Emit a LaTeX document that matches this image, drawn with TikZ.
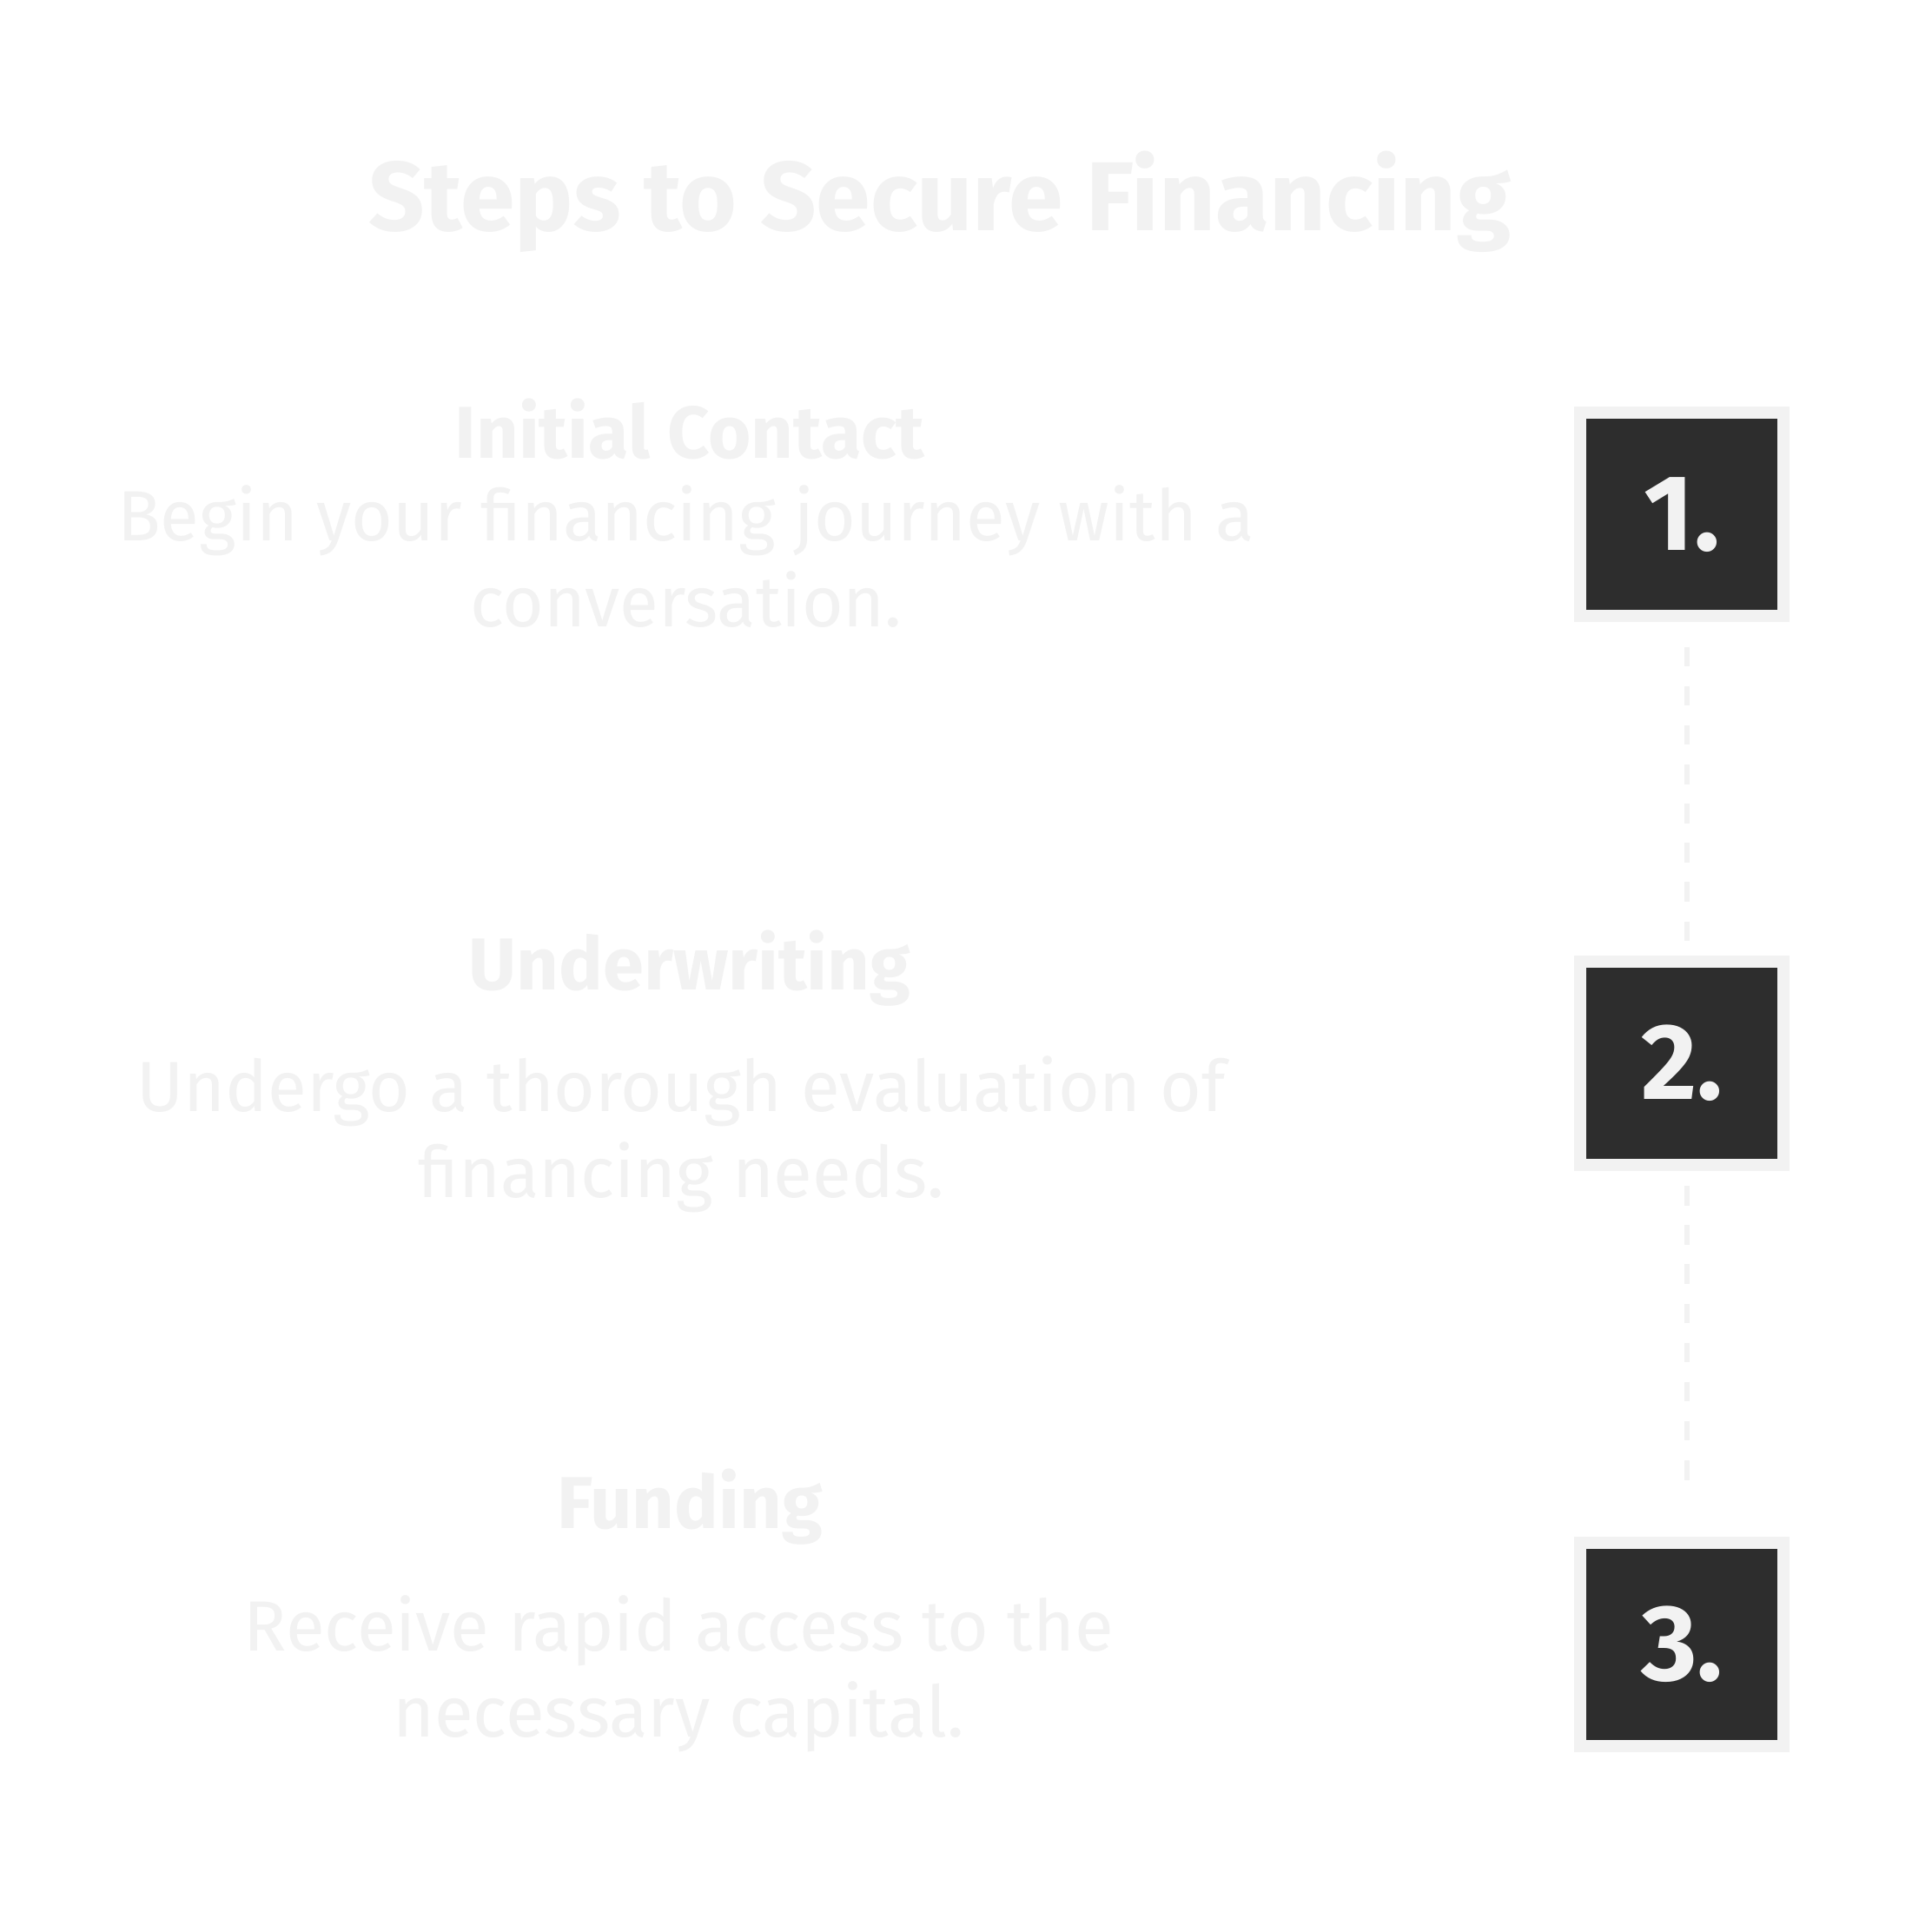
\documentclass[tikz,border=0pt]{standalone}
\usepackage{fontspec}
\setmainfont{Fira Sans}
\definecolor{lt}{HTML}{F2F2F2}
\definecolor{dk}{HTML}{2D2D2D}
\begin{document}
\begin{tikzpicture}[x=0.5pt,y=-0.5pt,
  ttl/.style={text=lt,font=\fontsize{40}{48}\selectfont\bfseries},
  hd/.style={text=lt,font=\fontsize{30}{36}\selectfont\bfseries},
  dsc/.style={text=lt,align=center,font=\fontsize{29}{35}\selectfont},
  numbox/.style={draw=lt,line width=5pt,fill=dk,minimum width=83pt,minimum height=83pt,inner sep=0pt,text=lt,font=\fontsize{44}{50}\selectfont\bfseries},
  conn/.style={draw=lt,line width=2pt,dash pattern=on 8pt off 8pt}]
\useasboundingbox[fill=white] (0,0) rectangle (1560,1577);
\node[ttl] (title) at (767,165) {Steps to Secure Financing};
\node[hd] (h1) at (563,350) {Initial Contact};
\node[dsc] (d1) at (560,454) {Begin your financing journey with a\\conversation.};
\node[hd] (h2) at (563,790) {Underwriting};
\node[dsc] (d2) at (556,926) {Undergo a thorough evaluation of\\financing needs.};
\node[hd] (h3) at (563,1230) {Funding};
\node[dsc] (d3) at (554,1366) {Receive rapid access to the\\necessary capital.};
\node[numbox] (n1) at (1373,420) {1.};
\node[numbox] (n2) at (1373,868) {2.};
\node[numbox] (n3) at (1373,1342) {3.};
\coordinate (a1) at (1377,528); \coordinate (b1) at (1377,770);
\coordinate (a2) at (1377,968); \coordinate (b2) at (1377,1210);
\draw[conn] (a1) -- (b1);
\draw[conn] (a2) -- (b2);
\end{tikzpicture}
\end{document}
